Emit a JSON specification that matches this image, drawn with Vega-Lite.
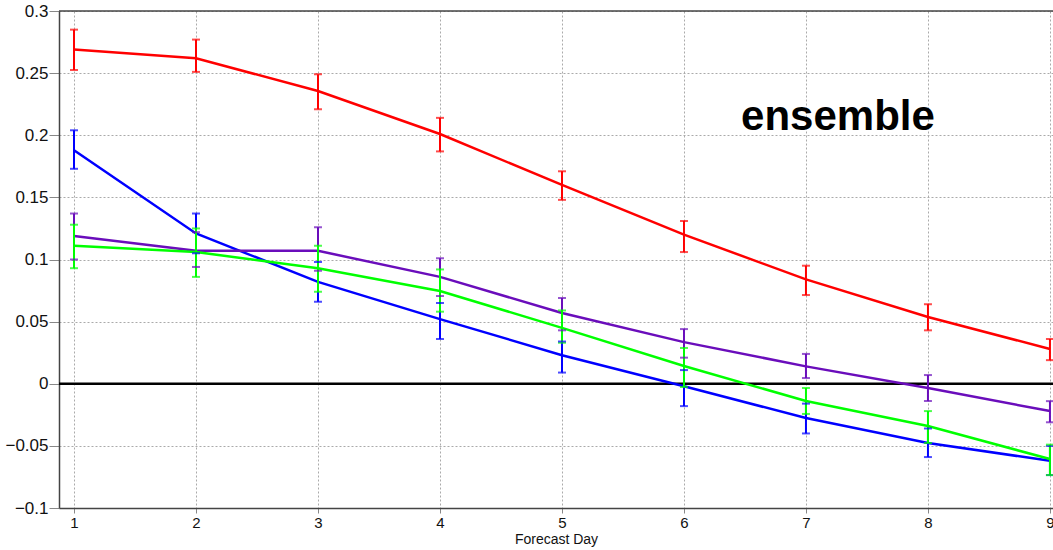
{
  "$schema": "https://vega.github.io/schema/vega-lite/v6.json",
  "width": 994,
  "height": 497,
  "autosize": {"type": "none"},
  "padding": {"left": 59, "top": 11, "right": 0, "bottom": 42},
  "background": "white",
  "view": {"stroke": null},
  "config": {
    "font": "Liberation Sans",
    "axis": {
      "gridColor": "#aaaaaa",
      "gridDash": [2, 2],
      "gridWidth": 1,
      "domainColor": "#444444",
      "domainWidth": 1.5,
      "tickColor": "#888888",
      "labelColor": "#111111",
      "titleColor": "#111111",
      "labelFont": "Liberation Sans",
      "titleFont": "Liberation Sans",
      "titleFontWeight": "normal"
    }
  },
  "datasets": {
    "series": [
      {"day": 1, "model": "red", "value": 0.269, "lo": 0.2525, "hi": 0.285},
      {"day": 2, "model": "red", "value": 0.262, "lo": 0.251, "hi": 0.277},
      {"day": 3, "model": "red", "value": 0.2356, "lo": 0.221, "hi": 0.249},
      {"day": 4, "model": "red", "value": 0.201, "lo": 0.187, "hi": 0.214},
      {"day": 5, "model": "red", "value": 0.16, "lo": 0.148, "hi": 0.171},
      {"day": 6, "model": "red", "value": 0.12, "lo": 0.106, "hi": 0.131},
      {"day": 7, "model": "red", "value": 0.084, "lo": 0.0714, "hi": 0.095},
      {"day": 8, "model": "red", "value": 0.0537, "lo": 0.043, "hi": 0.064},
      {"day": 9, "model": "red", "value": 0.028, "lo": 0.019, "hi": 0.036},
      {"day": 1, "model": "blue", "value": 0.188, "lo": 0.173, "hi": 0.204},
      {"day": 2, "model": "blue", "value": 0.121, "lo": 0.105, "hi": 0.137},
      {"day": 3, "model": "blue", "value": 0.082, "lo": 0.066, "hi": 0.098},
      {"day": 4, "model": "blue", "value": 0.052, "lo": 0.036, "hi": 0.065},
      {"day": 5, "model": "blue", "value": 0.023, "lo": 0.009, "hi": 0.034},
      {"day": 6, "model": "blue", "value": -0.002, "lo": -0.018, "hi": 0.011},
      {"day": 7, "model": "blue", "value": -0.0276, "lo": -0.04, "hi": -0.016},
      {"day": 8, "model": "blue", "value": -0.0477, "lo": -0.059, "hi": -0.036},
      {"day": 9, "model": "blue", "value": -0.062, "lo": -0.0735, "hi": -0.05},
      {"day": 1, "model": "purple", "value": 0.119, "lo": 0.1, "hi": 0.137},
      {"day": 2, "model": "purple", "value": 0.107, "lo": 0.094, "hi": 0.122},
      {"day": 3, "model": "purple", "value": 0.107, "lo": 0.091, "hi": 0.126},
      {"day": 4, "model": "purple", "value": 0.086, "lo": 0.0706, "hi": 0.101},
      {"day": 5, "model": "purple", "value": 0.057, "lo": 0.043, "hi": 0.069},
      {"day": 6, "model": "purple", "value": 0.0335, "lo": 0.021, "hi": 0.044},
      {"day": 7, "model": "purple", "value": 0.014, "lo": 0.0046, "hi": 0.024},
      {"day": 8, "model": "purple", "value": -0.0034, "lo": -0.0139, "hi": 0.007},
      {"day": 9, "model": "purple", "value": -0.022, "lo": -0.031, "hi": -0.014},
      {"day": 1, "model": "green", "value": 0.111, "lo": 0.093, "hi": 0.128},
      {"day": 2, "model": "green", "value": 0.106, "lo": 0.086, "hi": 0.125},
      {"day": 3, "model": "green", "value": 0.093, "lo": 0.074, "hi": 0.111},
      {"day": 4, "model": "green", "value": 0.0746, "lo": 0.058, "hi": 0.092},
      {"day": 5, "model": "green", "value": 0.045, "lo": 0.033, "hi": 0.059},
      {"day": 6, "model": "green", "value": 0.0143, "lo": -0.0026, "hi": 0.0288},
      {"day": 7, "model": "green", "value": -0.0139, "lo": -0.0243, "hi": -0.0034},
      {"day": 8, "model": "green", "value": -0.034, "lo": -0.0477, "hi": -0.022},
      {"day": 9, "model": "green", "value": -0.0606, "lo": -0.0735, "hi": -0.049}
    ]
  },
  "data": {"name": "series"},
  "encoding": {
    "x": {
      "field": "day",
      "type": "quantitative",
      "scale": {"domain": [0.877, 9.025], "nice": false, "zero": false},
      "axis": {
        "title": "Forecast Day",
        "titleFontSize": 14,
        "titlePadding": 2,
        "labelFontSize": 15,
        "labelPadding": 2,
        "tickSize": 5,
        "values": [1, 2, 3, 4, 5, 6, 7, 8, 9],
        "format": "d",
        "grid": true
      }
    },
    "y": {
      "field": "value",
      "type": "quantitative",
      "scale": {"domain": [-0.1, 0.3], "nice": false, "zero": false},
      "axis": {
        "title": null,
        "labelFontSize": 17,
        "labelPadding": 1,
        "tickSize": 10,
        "values": [-0.1, -0.05, 0, 0.05, 0.1, 0.15, 0.2, 0.25, 0.3],
        "format": "~g",
        "grid": true
      }
    },
    "color": {
      "field": "model",
      "type": "nominal",
      "scale": {"domain": ["red", "blue", "purple", "green"], "range": ["#ff0000", "#0000ff", "#6a0dbb", "#00ff00"]},
      "legend": null
    }
  },
  "layer": [
    {
      "data": {"values": [{"v": 0}]},
      "mark": {"type": "rule", "color": "black", "strokeWidth": 2.5},
      "encoding": {"y": {"field": "v", "type": "quantitative"}, "x": null, "color": null}
    },
    {
      "data": {"values": [{"v": 0.3}]},
      "mark": {"type": "rule", "color": "#444444", "strokeWidth": 1.5},
      "encoding": {"y": {"field": "v", "type": "quantitative"}, "x": null, "color": null}
    },
    {
      "mark": {"type": "line", "strokeWidth": 2.5},
      "encoding": {"detail": {"field": "model"}}
    },
    {
      "mark": {"type": "rule", "strokeWidth": 2},
      "encoding": {"y": {"field": "lo", "type": "quantitative"}, "y2": {"field": "hi"}}
    },
    {
      "mark": {"type": "tick", "orient": "horizontal", "thickness": 2, "size": 8},
      "encoding": {"y": {"field": "lo", "type": "quantitative"}}
    },
    {
      "mark": {"type": "tick", "orient": "horizontal", "thickness": 2, "size": 8},
      "encoding": {"y": {"field": "hi", "type": "quantitative"}}
    },
    {
      "data": {"values": [{"day": 7.262, "value": 0.2147, "label": "ensemble"}]},
      "mark": {"type": "text", "fontSize": 42, "fontWeight": "bold", "align": "center", "baseline": "middle", "color": "black", "font": "Liberation Sans"},
      "encoding": {"text": {"field": "label"}, "color": null}
    }
  ]
}
